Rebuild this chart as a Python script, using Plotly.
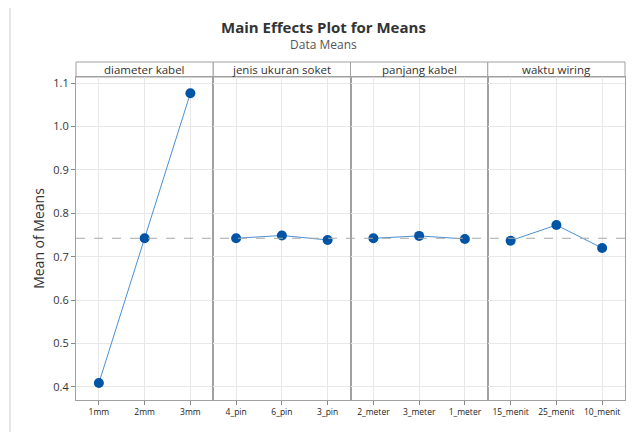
import plotly.graph_objects as go
from plotly.subplots import make_subplots

factors = ["diameter kabel", "jenis ukuran soket", "panjang kabel", "waktu wiring"]
levels = [
    ["1mm", "2mm", "3mm"],
    ["4_pin", "6_pin", "3_pin"],
    ["2_meter", "3_meter", "1_meter"],
    ["15_menit", "25_menit", "10_menit"],
]
means = [
    [0.409, 0.7425, 1.0767],
    [0.7425, 0.749, 0.7386],
    [0.7425, 0.748, 0.741],
    [0.737, 0.773, 0.720],
]
grand_mean = 0.7425
y_ticks = [0.4, 0.5, 0.6, 0.7, 0.8, 0.9, 1.0, 1.1]

W, H = 642, 432
OFF = 8  # page body margin
L, T = 76 - OFF, 77 - OFF
R = W - (625 - OFF)
B = H - (400 - OFF)
strip_h = 15

fig = make_subplots(rows=1, cols=4, shared_yaxes=True, horizontal_spacing=0)
for i in range(4):
    fig.add_trace(go.Scatter(
        x=list(range(3)), y=means[i], mode="lines+markers",
        line=dict(color="#4a8fd4", width=1),
        marker=dict(color="#0054a6", size=10),
        showlegend=False, hoverinfo="skip"), row=1, col=i + 1)
    fig.update_xaxes(
        tickmode="array", tickvals=list(range(3)), ticktext=levels[i],
        range=[-0.5, 2.5], showgrid=True, gridcolor="#e8e8e8", gridwidth=1,
        showline=True, linecolor="#a0a0a0", linewidth=1, mirror=True,
        ticks="outside", ticklen=4, tickcolor="#888",
        tickfont=dict(family="Open Sans", size=8.5, color="#222"),
        zeroline=False, fixedrange=True, automargin=False, row=1, col=i + 1)
    fig.update_yaxes(
        range=[0.37, 1.114], tickvals=y_ticks,
        ticktext=[f"{v:.1f}" for v in y_ticks],
        showgrid=True, gridcolor="#e8e8e8", gridwidth=1,
        showline=True, linecolor="#a0a0a0", linewidth=1, mirror=True,
        zeroline=False, automargin=False, row=1, col=i + 1)

fig.update_yaxes(ticks="outside", ticklen=4, tickcolor="#888",
                 tickfont=dict(family="Open Sans", size=11, color="#333"),
                 title=dict(text="Mean of Means", font=dict(family="Open Sans", size=14, color="#333"), standoff=5),
                 row=1, col=1)

# grand mean dashed line
fig.add_shape(type="line", xref="paper", yref="y", x0=0, x1=1, y0=grand_mean, y1=grand_mean,
              line=dict(color="#a8a8a8", width=1, dash="dash"))

plot_w = W - L - R
plot_h = H - T - B
sh = strip_h / plot_h
for i in range(4):
    x0 = i / 4
    x1 = (i + 1) / 4
    fig.add_shape(type="rect", xref="paper", yref="paper", x0=x0, x1=x1, y0=1, y1=1 + sh,
                  line=dict(color="#a0a0a0", width=1), fillcolor="white", layer="below")
    fig.add_annotation(xref="paper", yref="paper", x=(x0 + x1) / 2, y=1 + sh / 2,
                       xanchor="center", yanchor="middle",
                       text=factors[i], showarrow=False,
                       font=dict(family="Open Sans", size=11.5, color="#333"))

# outer frame (left edge visible)
fig.add_shape(type="line", xref="paper", yref="paper",
              x0=(10 - OFF - L) / plot_w, x1=(10 - OFF - L) / plot_w,
              y0=-0.5, y1=1.5,
              line=dict(color="#dddddd", width=1.5))

# titles
def px_x(x):
    return (x - OFF - L) / plot_w

def px_y(y):
    return 1 + (T - (y - OFF)) / plot_h

fig.add_annotation(xref="paper", yref="paper", x=px_x(323), y=px_y(27),
                   xanchor="center", yanchor="middle", showarrow=False,
                   text="<b>Main Effects Plot for Means</b>",
                   font=dict(family="Open Sans", size=15, color="#333"))
fig.add_annotation(xref="paper", yref="paper", x=px_x(323), y=px_y(45),
                   xanchor="center", yanchor="middle", showarrow=False,
                   text="Data Means",
                   font=dict(family="Open Sans", size=12, color="#555"))

fig.update_layout(
    width=W, height=H,
    margin=dict(l=L, r=R, t=T, b=B, autoexpand=False),
    paper_bgcolor="white", plot_bgcolor="white",
)

fig.write_html("out.html")
